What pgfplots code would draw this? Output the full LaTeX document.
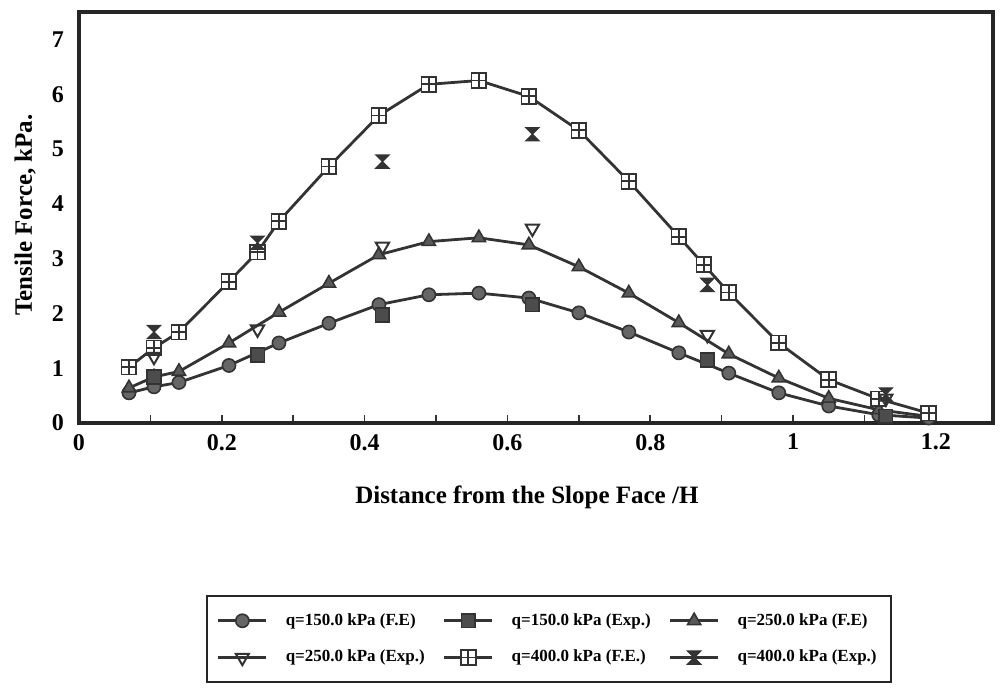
\documentclass[border=0pt]{standalone}
\usepackage{fontspec}
\setmainfont{Liberation Serif}
\usepackage{pgfplots}
\pgfplotsset{compat=1.18}
\usetikzlibrary{plotmarks}

% extra mark shapes seen in the scan
\pgfdeclareplotmark{boxplus}{%
  \pgfpathrectangle{\pgfpoint{-\pgfplotmarksize}{-\pgfplotmarksize}}{\pgfpoint{2\pgfplotmarksize}{2\pgfplotmarksize}}%
  \pgfusepathqfillstroke
  \pgfpathmoveto{\pgfpoint{-\pgfplotmarksize}{0pt}}\pgfpathlineto{\pgfpoint{\pgfplotmarksize}{0pt}}%
  \pgfpathmoveto{\pgfpoint{0pt}{-\pgfplotmarksize}}\pgfpathlineto{\pgfpoint{0pt}{\pgfplotmarksize}}%
  \pgfusepathqstroke}
\pgfdeclareplotmark{hourglass}{%
  \pgfpathmoveto{\pgfpoint{-\pgfplotmarksize}{\pgfplotmarksize}}%
  \pgfpathlineto{\pgfpoint{\pgfplotmarksize}{\pgfplotmarksize}}%
  \pgfpathlineto{\pgfpoint{-\pgfplotmarksize}{-\pgfplotmarksize}}%
  \pgfpathlineto{\pgfpoint{\pgfplotmarksize}{-\pgfplotmarksize}}%
  \pgfpathclose\pgfusepathqfillstroke}

\colorlet{ink}{black!80}
\tikzset{
  feA/.style={ink, line width=1.4pt, mark=*, mark size=3.3pt, mark options={fill=black!60, draw=ink, line width=0.8pt}},
  feB/.style={ink, line width=1.4pt, mark=triangle*, mark size=3.8pt, mark options={fill=black!65, draw=ink, line width=0.8pt}},
  feC/.style={ink, line width=1.4pt, mark=boxplus, mark size=3.7pt, mark options={fill=white, draw=ink, line width=0.9pt}},
  exA/.style={ink, line width=1.4pt, mark=square*, mark size=3.4pt, mark options={fill=black!70, draw=ink, line width=0.8pt}},
  exB/.style={ink, line width=1.4pt, mark=triangle, mark size=3.8pt, mark options={rotate=180, fill=white, draw=ink, line width=1pt}},
  exC/.style={ink, line width=1.4pt, mark=hourglass, mark size=3.3pt, mark options={fill=black!80, draw=ink, line width=0.6pt}},
}

\begin{document}
\begin{tikzpicture}[font=\bfseries]
  \path[use as bounding box] (-39.5pt,-132.5pt) rectangle (464pt,211.5pt);
  \begin{axis}[
      at={(0pt,0pt)}, anchor=south west,
      scale only axis,
      width=457pt, height=205.5pt,
      xmin=0, xmax=1.28, ymin=0, ymax=7.5,
      xtick={0,0.2,...,1.2},
      minor xtick={0.1,0.3,...,1.1},
      ytick={0,1,...,7},
      xtick pos=left,
      tick align=inside,
      major tick length=4pt, minor tick length=4pt,
      ytick style={draw=none},
      xtick style={line width=0.8pt, black!80},
      axis line style={line width=1.6pt, black!85},
      /pgf/number format/assume math mode=true,
      ticklabel style={font=\bfseries\fontsize{12}{14}\selectfont},
      xticklabel style={yshift=-2pt},
      yticklabel style={xshift=-4pt},
      xlabel={Distance from the Slope Face /H},
      ylabel={Tensile Force, kPa.},
      every axis x label/.style={at={(axis description cs:0.49,-0.182)}, anchor=center,
        font=\bfseries\fontsize{12.5}{14}\selectfont},
      every axis y label/.style={at={(axis description cs:-0.059,0.506)}, anchor=center, rotate=90,
        font=\bfseries\fontsize{12.5}{14}\selectfont},
      legend columns=3,
      legend style={at={(axis description cs:0.514,-0.526)}, anchor=center,
        draw=black!85, line width=0.9pt,
        font=\bfseries\fontsize{8.5}{10}\selectfont,
        column sep=7pt, row sep=7pt, inner xsep=5pt, inner ysep=6.5pt},
      legend cell align=left,
      legend image code/.code={%
        \draw[mark repeat=2, mark phase=2, #1] plot coordinates {(0pt,0pt) (12pt,0pt) (24pt,0pt)};},
    ]
    % F.E. results
    \addplot[feA, forget plot] coordinates {
      (0.07,0.55) (0.105,0.66) (0.14,0.74) (0.21,1.05) (0.28,1.46) (0.35,1.82)
      (0.42,2.16) (0.49,2.34) (0.56,2.37) (0.63,2.28) (0.70,2.01) (0.77,1.66)
      (0.84,1.28) (0.91,0.91) (0.98,0.55) (1.05,0.31) (1.12,0.15) (1.19,0.09)};
    \addplot[feB, forget plot] coordinates {
      (0.07,0.64) (0.105,0.84) (0.14,0.94) (0.21,1.46) (0.28,2.02) (0.35,2.55)
      (0.42,3.07) (0.49,3.31) (0.56,3.38) (0.63,3.25) (0.70,2.85) (0.77,2.37)
      (0.84,1.83) (0.91,1.26) (0.98,0.82) (1.05,0.45) (1.12,0.24) (1.19,0.12)};
    \addplot[feC, forget plot] coordinates {
      (0.07,1.02) (0.105,1.37) (0.14,1.66) (0.21,2.58) (0.25,3.12) (0.28,3.68)
      (0.35,4.68) (0.42,5.61) (0.49,6.18) (0.56,6.25) (0.63,5.96) (0.70,5.34)
      (0.77,4.41) (0.84,3.40) (0.875,2.89) (0.91,2.38) (0.98,1.46) (1.05,0.79)
      (1.12,0.44) (1.19,0.18)};
    % experimental results
    \addplot[exA, only marks, forget plot] coordinates {
      (0.105,0.84) (0.25,1.24) (0.425,1.97) (0.635,2.16) (0.88,1.15) (1.13,0.12)};
    \addplot[exB, only marks, forget plot] coordinates {
      (0.105,1.21) (0.25,1.71) (0.425,3.22) (0.635,3.55) (0.88,1.61) (1.13,0.45)};
    \addplot[exC, only marks, forget plot] coordinates {
      (0.105,1.66) (0.25,3.29) (0.425,4.77) (0.635,5.27) (0.88,2.52) (1.13,0.52)};
    \addlegendimage{feA}
    \addlegendimage{exA}
    \addlegendimage{feB}
    \addlegendimage{exB}
    \addlegendimage{feC}
    \addlegendimage{exC}
    \legend{q=150.0 kPa (F.E), q=150.0 kPa (Exp.), q=250.0 kPa (F.E),
            q=250.0 kPa (Exp.), q=400.0 kPa (F.E.), q=400.0 kPa (Exp.)}
  \end{axis}
\end{tikzpicture}
\end{document}
